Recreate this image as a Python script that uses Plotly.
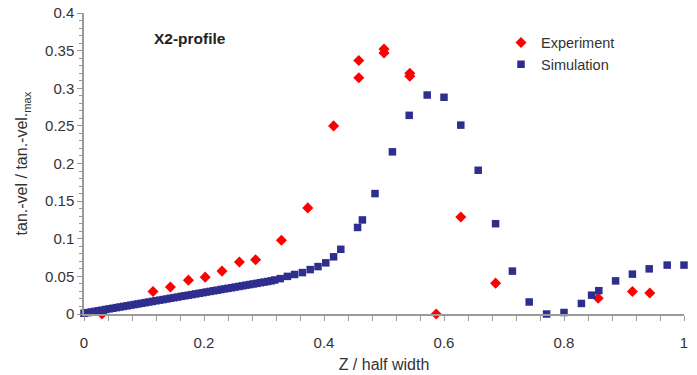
import plotly.graph_objects as go

# Experimental tangential velocity profile (X2 traverse)
exp_z = [0.030, 0.115, 0.144, 0.174, 0.202, 0.230, 0.259, 0.286, 0.329, 0.373,
         0.416, 0.458, 0.458, 0.500, 0.500, 0.543, 0.543, 0.587, 0.628, 0.686,
         0.857, 0.914, 0.943]
exp_v = [0.000, 0.030, 0.036, 0.045, 0.049, 0.057, 0.069, 0.072, 0.098, 0.141,
         0.250, 0.337, 0.314, 0.352, 0.347, 0.320, 0.316, 0.000, 0.129, 0.041,
         0.021, 0.030, 0.028]

# Simulated tangential velocity profile (fine cells near the wall, coarser further out)
sim_z = [0.000, 0.006, 0.012, 0.018, 0.024, 0.030, 0.036, 0.042, 0.048, 0.054,
         0.060, 0.066, 0.072, 0.078, 0.084, 0.090, 0.096, 0.102, 0.108, 0.114,
         0.120, 0.126, 0.132, 0.138, 0.144, 0.150, 0.156, 0.162, 0.168, 0.174,
         0.180, 0.186, 0.192, 0.198, 0.204, 0.210, 0.216, 0.222, 0.228, 0.234,
         0.240, 0.246, 0.252, 0.258, 0.264, 0.270, 0.276, 0.282, 0.288, 0.294,
         0.300, 0.306, 0.312, 0.318, 0.327, 0.339, 0.351, 0.364, 0.377, 0.390,
         0.403, 0.416, 0.428, 0.456, 0.464, 0.485, 0.514, 0.542, 0.572, 0.600,
         0.628, 0.657, 0.686, 0.714, 0.742, 0.771, 0.800, 0.829, 0.846, 0.858,
         0.886, 0.914, 0.942, 0.972, 1.000]
sim_v = [0.0010, 0.0018, 0.0027, 0.0035, 0.0043, 0.0051, 0.0060, 0.0068, 0.0076, 0.0085,
         0.0093, 0.0101, 0.0109, 0.0118, 0.0126, 0.0134, 0.0142, 0.0151, 0.0159, 0.0167,
         0.0176, 0.0184, 0.0192, 0.0200, 0.0209, 0.0217, 0.0225, 0.0234, 0.0242, 0.0250,
         0.0258, 0.0267, 0.0275, 0.0283, 0.0292, 0.0300, 0.0308, 0.0316, 0.0325, 0.0333,
         0.0341, 0.0349, 0.0358, 0.0366, 0.0374, 0.0383, 0.0391, 0.0399, 0.0407, 0.0416,
         0.0424, 0.0432, 0.0441, 0.0452, 0.0470, 0.0500, 0.0525, 0.0550, 0.0590, 0.0630,
         0.0680, 0.0760, 0.0860, 0.1150, 0.1250, 0.1600, 0.2155, 0.2640, 0.2910, 0.2880,
         0.2510, 0.1910, 0.1200, 0.0570, 0.0160, 0.0000, 0.0020, 0.0140, 0.0250, 0.0310,
         0.0440, 0.0530, 0.0600, 0.0650, 0.0650]

x_ticks = [0, 0.2, 0.4, 0.6, 0.8, 1]
x_tick_text = ["0", "0.2", "0.4", "0.6", "0.8", "1"]
y_ticks = [0, 0.05, 0.1, 0.15, 0.2, 0.25, 0.3, 0.35, 0.4]
y_tick_text = ["0", "0.05", "0.1", "0.15", "0.2", "0.25", "0.3", "0.35", "0.4"]

FONT = "Liberation Sans, Arial, sans-serif"
TEXT = "#333333"
AXIS = "#9a9a9a"

fig = go.Figure()
fig.add_trace(go.Scatter(
    x=exp_z, y=exp_v, mode="markers", name="Experiment",
    marker=dict(symbol="diamond", size=8.5, color="#ff0000", line=dict(width=0)),
    cliponaxis=False,
))
fig.add_trace(go.Scatter(
    x=sim_z, y=sim_v, mode="markers", name="Simulation",
    marker=dict(symbol="square", size=7.5, color="#2e2e8f", line=dict(width=0)),
    cliponaxis=False,
))

fig.add_annotation(
    x=0.113, y=0.366, xref="x", yref="y", xanchor="left", yanchor="middle",
    text="<b>X2-profile</b>", showarrow=False,
    font=dict(family=FONT, size=15.5, color="#222222"),
)

fig.update_layout(
    width=697, height=375,
    margin=dict(l=84, r=13, t=13, b=61),
    paper_bgcolor="white", plot_bgcolor="white",
    font=dict(family=FONT, size=14, color=TEXT),
    showlegend=True,
    legend=dict(
        x=0.695, y=0.955, xanchor="left", yanchor="top",
        bgcolor="rgba(0,0,0,0)", font=dict(family=FONT, size=14.5, color=TEXT),
        itemwidth=30, tracegroupgap=0,
    ),
)

fig.update_xaxes(
    range=[0, 1], tickvals=x_ticks, ticktext=x_tick_text,
    showgrid=False, zeroline=False, automargin=False,
    showline=True, linecolor=AXIS, linewidth=1.5,
    ticks="outside", ticklen=5, tickcolor=AXIS, tickwidth=1,
    minor=dict(dtick=0.04, ticks="outside", ticklen=5, tickcolor=AXIS, showgrid=False),
    tickfont=dict(family=FONT, size=15, color=TEXT),
    ticklabelstandoff=9,
    title=dict(text="Z / half width", font=dict(family=FONT, size=16, color=TEXT), standoff=9),
)
fig.update_yaxes(
    range=[0, 0.4], tickvals=y_ticks, ticktext=y_tick_text,
    showgrid=False, zeroline=False, automargin=False,
    showline=True, linecolor=AXIS, linewidth=1.5,
    ticks="outside", ticklen=5, tickcolor=AXIS, tickwidth=1,
    minor=dict(dtick=0.01, ticks="outside", ticklen=3, tickcolor=AXIS, showgrid=False),
    tickfont=dict(family=FONT, size=15, color=TEXT),
    title=dict(text="tan.-vel / tan.-vel.<sub>max</sub>",
               font=dict(family=FONT, size=16, color=TEXT), standoff=13),
)

fig.write_html("out.html")
